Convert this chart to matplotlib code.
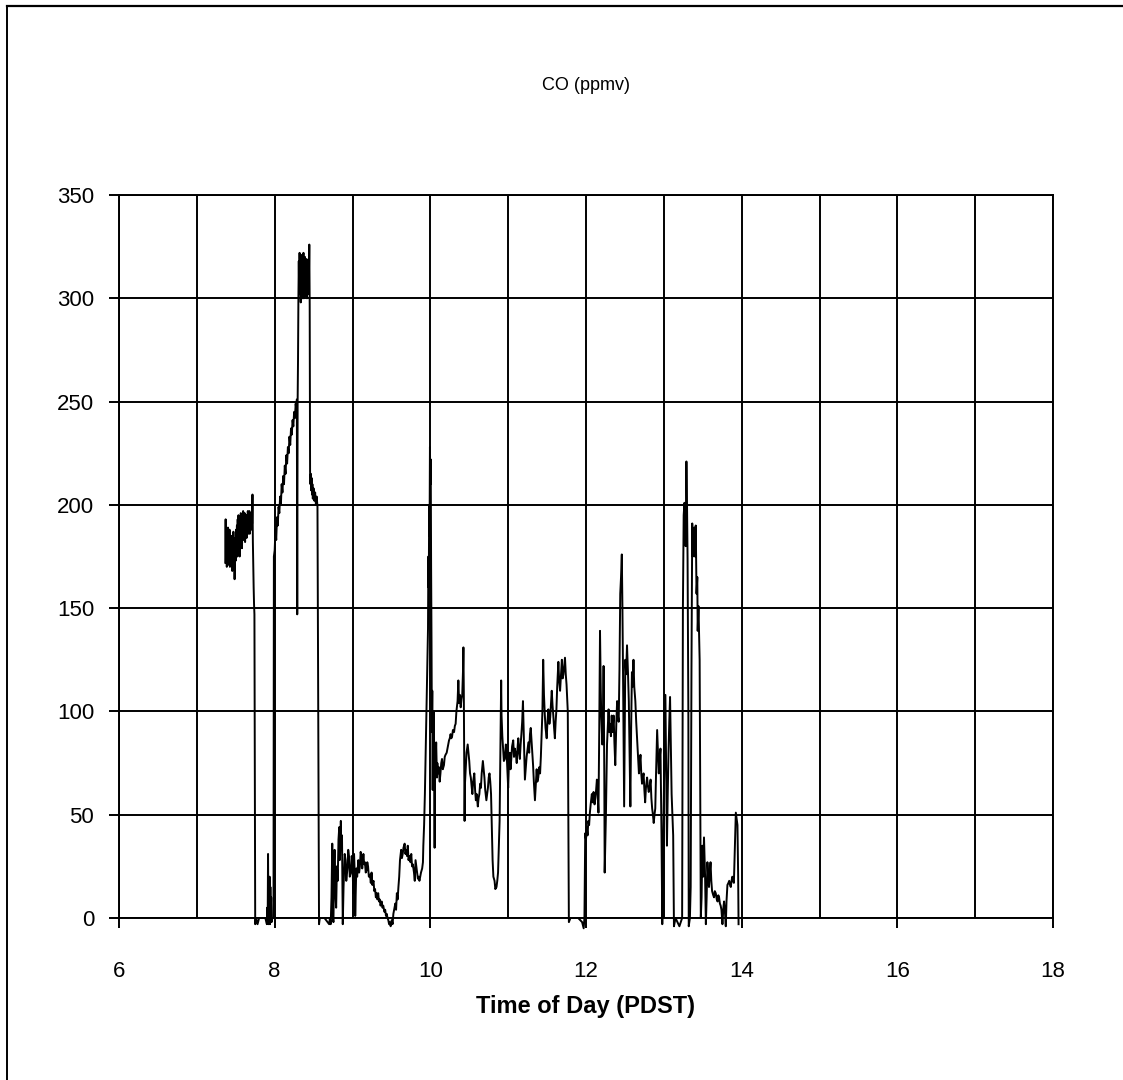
import numpy as np
import matplotlib
matplotlib.use("Agg")
import matplotlib.pyplot as plt
from matplotlib.lines import Line2D
from matplotlib.ticker import FixedLocator

plt.rcParams['font.family'] = ['Liberation Sans', 'DejaVu Sans']

# CO record, (hour of day PDST, ppmv), split into stretches of the day
co_0730 = [
    (7.365, 172), (7.37, 193), (7.375, 172), (7.38, 186), (7.385, 170), (7.39, 182),
    (7.395, 175), (7.40, 189), (7.405, 171), (7.41, 184), (7.415, 176), (7.42, 188),
    (7.425, 170), (7.43, 181), (7.435, 178), (7.44, 185), (7.445, 172), (7.45, 183),
    (7.455, 168), (7.46, 180), (7.465, 174), (7.47, 187), (7.475, 171), (7.48, 182),
    (7.485, 164), (7.49, 178), (7.495, 184), (7.50, 173), (7.505, 188), (7.51, 176),
    (7.515, 190), (7.52, 175), (7.525, 193), (7.53, 180), (7.535, 195), (7.54, 178),
    (7.545, 186), (7.55, 175), (7.555, 192), (7.56, 182), (7.565, 196), (7.57, 184),
    (7.575, 193), (7.58, 179), (7.585, 190), (7.59, 185), (7.595, 197), (7.60, 183),
    (7.605, 194), (7.61, 186), (7.615, 196), (7.62, 182), (7.625, 192), (7.63, 187),
    (7.635, 195), (7.64, 184), (7.645, 193), (7.65, 188), (7.655, 197), (7.66, 186),
    (7.665, 195), (7.67, 189), (7.675, 197), (7.68, 186), (7.685, 194), (7.69, 190),
    (7.695, 196), (7.70, 188), (7.705, 194), (7.71, 191), (7.715, 205), (7.72, 182),
    (7.725, 170), (7.73, 160), (7.735, 152), (7.74, 147), (7.745, 60), (7.75, -3),
    (7.76, 0), (7.78, -3), (7.80, 0), (7.88, 0), (7.90, -3), (7.905, 5), (7.91, -2),
    (7.915, 31), (7.92, -3), (7.925, 18), (7.93, 5), (7.935, 20), (7.94, -3),
    (7.945, 15), (7.95, 2), (7.955, 10), (7.96, -2), (7.97, 0), (7.985, 0),
]

co_0800 = [
    (7.99, 175), (8.00, 178), (8.01, 188), (8.02, 183), (8.03, 194), (8.04, 190),
    (8.05, 199), (8.06, 196), (8.07, 204), (8.08, 200), (8.09, 210), (8.10, 206),
    (8.11, 214), (8.12, 210), (8.13, 219), (8.14, 215), (8.15, 224), (8.16, 220),
    (8.17, 228), (8.18, 225), (8.19, 233), (8.20, 229), (8.21, 237), (8.22, 234),
    (8.23, 241), (8.24, 238), (8.25, 245), (8.26, 242), (8.27, 249), (8.28, 245),
    (8.285, 251), (8.29, 147), (8.295, 250), (8.30, 270), (8.305, 300), (8.31, 318),
    (8.315, 302), (8.32, 322), (8.325, 305), (8.33, 320), (8.335, 298), (8.34, 315),
    (8.345, 303), (8.35, 321), (8.355, 300), (8.36, 318), (8.365, 306), (8.37, 322),
    (8.375, 300), (8.38, 316), (8.385, 304), (8.39, 320), (8.395, 301), (8.40, 314),
    (8.405, 305), (8.41, 319), (8.415, 300), (8.42, 313), (8.425, 306), (8.43, 318),
    (8.435, 302), (8.44, 310), (8.445, 326), (8.45, 297), (8.455, 216), (8.46, 210),
    (8.465, 215), (8.47, 207), (8.475, 213), (8.48, 205), (8.485, 210), (8.49, 203),
    (8.50, 208), (8.51, 202), (8.52, 206), (8.53, 200), (8.54, 204), (8.55, 199),
    (8.56, 100), (8.57, -3), (8.58, 0),
]

co_0900 = [
    (8.64, 0), (8.70, -3), (8.71, 0), (8.72, -3), (8.73, 10), (8.74, 36), (8.745, 2),
    (8.755, -2), (8.765, 28), (8.77, 33), (8.78, 12), (8.79, 5), (8.80, 25), (8.81, 18),
    (8.82, 38), (8.83, 44), (8.835, 28), (8.84, 30), (8.85, 47), (8.855, 35),
    (8.865, 40), (8.875, -3), (8.885, 15), (8.89, 20), (8.90, 31), (8.91, 28),
    (8.92, 18), (8.935, 24), (8.945, 33), (8.955, 30), (8.965, 20), (8.98, 22),
    (8.99, 30), (9.00, 26), (9.01, 12), (9.02, 31), (9.03, 20), (9.035, 1), (9.045, 18),
    (9.05, 24), (9.06, 20), (9.075, 28), (9.085, 22), (9.095, 25), (9.105, 32),
    (9.115, 29), (9.125, 24), (9.14, 31), (9.15, 26), (9.16, 27), (9.17, 22),
    (9.18, 23), (9.19, 27), (9.20, 25), (9.21, 20), (9.225, 21), (9.235, 17),
    (9.245, 22), (9.255, 16), (9.27, 18), (9.28, 13), (9.29, 14), (9.30, 10),
    (9.31, 12), (9.32, 9), (9.33, 12), (9.34, 8), (9.35, 9), (9.36, 6), (9.375, 8),
    (9.385, 5), (9.395, 6), (9.41, 3), (9.42, 4), (9.43, 1), (9.44, 2), (9.45, 0),
    (9.46, -1), (9.47, -3), (9.48, -2), (9.49, -4), (9.505, -1), (9.515, -3),
    (9.525, 2), (9.535, 4), (9.55, 7), (9.56, 4), (9.57, 12), (9.58, 9), (9.59, 15),
    (9.60, 20), (9.61, 28), (9.625, 33), (9.635, 29), (9.645, 31), (9.655, 34),
    (9.67, 36), (9.68, 31), (9.69, 33), (9.70, 30), (9.71, 35), (9.72, 28), (9.73, 30),
    (9.745, 27), (9.755, 31), (9.765, 25), (9.775, 26), (9.79, 22), (9.80, 18),
    (9.81, 28), (9.82, 25), (9.83, 22), (9.84, 19), (9.85, 20), (9.86, 18), (9.87, 20),
    (9.88, 22), (9.895, 24), (9.905, 27), (9.91, 35), (9.92, 45), (9.93, 60),
    (9.94, 80), (9.95, 100), (9.96, 120),
]

co_1000 = [
    (9.97, 140), (9.975, 175), (9.98, 160), (9.985, 200), (9.99, 185), (9.995, 228),
    (10.0, 210), (10.005, 222), (10.01, 170), (10.015, 135), (10.02, 90),
    (10.025, 110), (10.03, 62), (10.035, 95), (10.04, 70), (10.045, 100), (10.05, 75),
    (10.055, 34), (10.06, 80), (10.065, 72), (10.075, 85), (10.085, 68), (10.09, 75),
    (10.10, 70), (10.11, 73), (10.12, 66), (10.13, 70), (10.14, 75), (10.15, 77),
    (10.16, 72), (10.175, 74), (10.185, 78), (10.195, 79), (10.21, 80), (10.22, 82),
    (10.23, 84), (10.24, 86), (10.25, 87), (10.26, 89), (10.27, 87), (10.28, 88),
    (10.29, 91), (10.305, 90), (10.315, 93), (10.325, 94), (10.335, 100), (10.35, 105),
    (10.36, 115), (10.37, 104), (10.38, 108), (10.39, 102), (10.40, 106), (10.41, 108),
    (10.42, 120), (10.425, 131), (10.43, 110), (10.44, 47), (10.445, 65), (10.455, 73),
    (10.465, 80), (10.48, 84), (10.49, 80), (10.50, 76), (10.51, 70), (10.52, 68),
    (10.53, 64), (10.54, 60), (10.55, 66), (10.565, 70), (10.575, 62), (10.585, 57),
    (10.595, 60), (10.61, 54), (10.62, 58), (10.63, 60), (10.64, 65), (10.65, 63),
    (10.66, 70), (10.675, 76), (10.685, 72), (10.695, 68), (10.705, 62), (10.72, 57),
    (10.73, 60), (10.74, 63), (10.75, 68), (10.76, 70), (10.77, 66), (10.78, 60),
    (10.79, 45), (10.80, 28), (10.81, 20), (10.825, 18), (10.835, 14), (10.85, 15),
    (10.86, 18), (10.87, 22), (10.88, 35), (10.89, 47), (10.90, 80), (10.91, 115),
]

co_1100 = [
    (10.915, 98), (10.925, 88), (10.935, 82), (10.945, 76), (10.957, 77), (10.97, 84),
    (10.98, 80), (10.99, 72), (11.0, 63), (11.01, 75), (11.02, 80), (11.03, 72),
    (11.04, 77), (11.05, 83), (11.065, 86), (11.075, 78), (11.086, 82), (11.10, 79),
    (11.11, 75), (11.12, 82), (11.13, 87), (11.14, 80), (11.15, 77), (11.16, 84),
    (11.17, 89), (11.18, 95), (11.19, 105), (11.20, 90), (11.215, 67), (11.225, 72),
    (11.237, 78), (11.25, 82), (11.26, 85), (11.27, 80), (11.28, 89), (11.29, 92),
    (11.30, 86), (11.31, 80), (11.32, 74), (11.33, 66), (11.344, 57), (11.355, 65),
    (11.366, 72), (11.375, 66), (11.387, 68), (11.40, 73), (11.41, 70), (11.42, 78),
    (11.43, 89), (11.44, 100), (11.45, 125), (11.46, 108), (11.47, 99), (11.48, 92),
    (11.495, 87), (11.505, 95), (11.516, 101), (11.53, 94), (11.54, 97), (11.55, 104),
    (11.56, 110), (11.57, 103), (11.58, 98), (11.59, 92), (11.60, 87), (11.61, 95),
    (11.62, 101), (11.63, 112), (11.645, 124), (11.655, 115), (11.667, 110),
    (11.68, 118), (11.69, 125), (11.70, 116), (11.71, 118), (11.72, 122), (11.73, 126),
    (11.74, 118), (11.75, 113), (11.766, 100), (11.78, -2), (11.80, 0), (11.90, 0),
    (11.95, -2), (11.97, -5), (11.98, 0),
]

co_1200 = [
    (11.99, 41), (12.0, 38), (12.01, 44), (12.02, 40), (12.03, 47), (12.04, 45),
    (12.05, 51), (12.06, 55), (12.075, 60), (12.085, 56), (12.097, 61), (12.11, 55),
    (12.12, 58), (12.13, 62), (12.14, 67), (12.15, 60), (12.16, 51), (12.17, 90),
    (12.18, 139), (12.19, 110), (12.196, 98), (12.21, 84), (12.22, 100), (12.226, 122),
    (12.235, 70), (12.24, 22), (12.248, 35), (12.256, 50), (12.265, 70), (12.27, 84),
    (12.28, 92), (12.29, 101), (12.30, 90), (12.31, 94), (12.32, 88), (12.33, 98),
    (12.34, 90), (12.355, 98), (12.365, 85), (12.376, 74), (12.39, 95), (12.40, 105),
    (12.41, 98), (12.42, 95), (12.43, 120), (12.44, 157), (12.45, 165), (12.46, 176),
    (12.468, 150), (12.475, 122), (12.49, 54), (12.498, 90), (12.505, 125),
    (12.515, 118), (12.527, 132), (12.54, 118), (12.55, 105), (12.56, 80), (12.57, 54),
    (12.58, 92), (12.59, 119), (12.60, 112), (12.61, 125), (12.62, 112), (12.634, 105),
    (12.645, 95), (12.656, 87), (12.668, 78), (12.68, 70), (12.69, 75), (12.70, 79),
    (12.71, 70), (12.72, 65), (12.73, 68), (12.74, 70), (12.75, 62), (12.76, 56),
    (12.77, 63), (12.785, 68), (12.795, 64), (12.806, 61), (12.82, 64), (12.83, 67),
    (12.84, 58), (12.85, 53), (12.86, 50), (12.87, 46), (12.88, 50), (12.89, 53),
    (12.90, 70), (12.914, 91), (12.925, 80), (12.935, 70), (12.945, 76), (12.957, 82),
]

co_1300 = [
    (12.97, 40), (12.98, -3), (12.99, 30), (13.0, 60), (13.01, 85), (13.02, 108),
    (13.03, 70), (13.04, 35), (13.05, 60), (13.06, 80), (13.07, 95), (13.08, 107),
    (13.09, 85), (13.10, 60), (13.11, 50), (13.12, 40), (13.13, -4), (13.15, 0),
    (13.20, -4), (13.235, 0), (13.245, 150), (13.255, 195), (13.265, 201),
    (13.28, 180), (13.29, 221), (13.298, 200), (13.305, 174), (13.315, 100),
    (13.32, -4), (13.335, 0), (13.345, 15), (13.355, 120), (13.365, 191),
    (13.372, 175), (13.38, 186), (13.39, 189), (13.40, 175), (13.41, 190),
    (13.42, 157), (13.43, 165), (13.435, 139), (13.445, 151), (13.46, 125),
    (13.475, 0), (13.485, 10), (13.495, 35), (13.505, 20), (13.516, 39), (13.53, 20),
    (13.54, -3), (13.55, 10), (13.56, 27), (13.57, 20), (13.58, 15), (13.59, 22),
    (13.60, 27), (13.61, 18), (13.62, 13), (13.635, 11), (13.645, 10), (13.655, 13),
    (13.667, 12), (13.68, 9), (13.69, 8), (13.70, 11), (13.71, 10), (13.72, 7),
    (13.73, 6), (13.74, 4), (13.753, -3), (13.765, 5), (13.774, 8), (13.785, 3),
    (13.796, -4), (13.805, 8), (13.817, 16), (13.83, 17), (13.84, 18), (13.85, 16),
    (13.86, 15), (13.87, 18), (13.88, 20), (13.89, 18), (13.90, 17), (13.91, 30),
    (13.925, 51), (13.935, 48), (13.946, 45), (13.955, 20), (13.96, -3),
]

segments = [co_0730, co_0800, co_0900, co_1000, co_1100, co_1200, co_1300]
record = np.array([p for seg in segments for p in seg], dtype=float)
hours, co = record[:, 0], record[:, 1]

x_major = [6, 8, 10, 12, 14, 16, 18]
x_minor = [7, 9, 11, 13, 15, 17]
y_ticks = [0, 50, 100, 150, 200, 250, 300, 350]

W, H = 1123, 1080
fig = plt.figure(figsize=(W / 100, H / 100), dpi=100)
fig.patch.set_facecolor('white')

ax = fig.add_axes([119 / W, (H - 918) / H, 934 / W, 723 / H])
ax.set_xlim(6, 18)
ax.set_ylim(0, 350)

ax.xaxis.set_major_locator(FixedLocator(x_major))
ax.xaxis.set_minor_locator(FixedLocator(x_minor))
ax.yaxis.set_major_locator(FixedLocator(y_ticks))
ax.set_xticklabels([str(v) for v in x_major])
ax.set_yticklabels([str(v) for v in y_ticks])

ax.grid(True, which='both', axis='x', color='black', linewidth=1.4)
ax.grid(True, which='major', axis='y', color='black', linewidth=1.4)
ax.set_axisbelow(True)

ax.tick_params(axis='x', which='major', direction='out', length=7, width=1.4,
               pad=24, labelsize=16, colors='black')
ax.tick_params(axis='x', which='minor', length=0)
ax.tick_params(axis='y', which='major', direction='out', length=7, width=1.4,
               pad=11, labelsize=16, colors='black')
for side in ('left', 'right', 'top', 'bottom'):
    ax.spines[side].set_linewidth(1.4)
    ax.spines[side].set_color('black')

ax.plot(hours, co, color='black', linewidth=1.4, clip_on=False, zorder=3)

ax.set_xlabel('Time of Day (PDST)', fontsize=17, fontweight='bold', labelpad=9)
fig.text(586 / W, 1 - 85 / H, 'CO (ppmv)', ha='center', va='center', fontsize=13)

# page frame around the chart
fig.add_artist(Line2D([7 / W, 1.0], [1 - 6 / H, 1 - 6 / H], color='black',
                      linewidth=1.6, transform=fig.transFigure))
fig.add_artist(Line2D([7 / W, 7 / W], [0.0, 1 - 6 / H], color='black',
                      linewidth=1.4, transform=fig.transFigure))

fig.savefig('out.png', dpi=100, facecolor='white')
